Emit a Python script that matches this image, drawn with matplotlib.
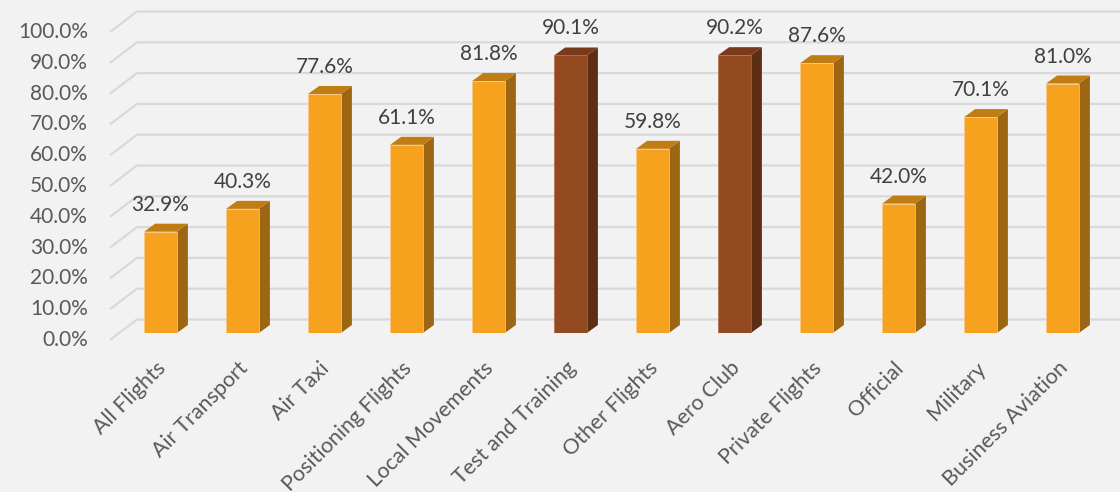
import matplotlib.pyplot as plt
import matplotlib.transforms as mtransforms
import numpy as np
from matplotlib.patches import Polygon

categories = ["All Flights", "Air Transport", "Air Taxi", "Positioning Flights",
              "Local Movements", "Test and Training", "Other Flights", "Aero Club",
              "Private Flights", "Official", "Military", "Business Aviation"]
values = [32.9, 40.3, 77.6, 61.1, 81.8, 90.1, 59.8, 90.2, 87.6, 42.0, 70.1, 81.0]
highlight = [False, False, False, False, False, True, False, True, False, False, False, False]
y_ticks = [0, 10, 20, 30, 40, 50, 60, 70, 80, 90, 100]

# colours (front, side, top)
orange = ("#F7A21E", "#9C6612", "#C07D14")
brown = ("#944A21", "#5E2E14", "#783A1B")

plt.rcParams['font.family'] = ['Lato', 'DejaVu Sans']

W, H = 1120, 492
fig = plt.figure(figsize=(W / 100, H / 100), dpi=100)
fig.patch.set_facecolor("#F2F2F2")

# axes placed so that x=-0.5..11.5 and y=0..100 sit on the bar plane
left, right, bottom, top = 119.5, 1103.5, 333, 25
ax = fig.add_axes([left / W, 1 - bottom / H, (right - left) / W, (bottom - top) / H])
ax.set_facecolor("none")
ax.set_xlim(-0.5, 11.5)
ax.set_ylim(0, 100)
for s in ax.spines.values():
    s.set_visible(False)

px_x = (right - left) / 12.0      # pixels per category
px_y = (bottom - top) / 100.0     # pixels per percent

def d(dx_px, dy_px):
    # pixel offset (image coords, y down) -> data offset
    return dx_px / px_x, -dy_px / px_y

fdx, fdy = d(-9.5, 7)      # front of floor
bdx, bdy = d(17.5, -13.5)  # back wall
cdx, cdy = d(11, -8)       # bar depth

# gridlines in perspective
for v in y_ticks:
    xs = [-0.5 + fdx, -0.5 + bdx, 11.5 + bdx + 1]
    ys = [v + fdy, v + bdy, v + bdy]
    ax.plot(xs, ys, color="#D9D9D9", lw=1.6, clip_on=False, zorder=1,
            solid_capstyle="butt")
    ax.text(-0.5 + fdx - 22 / px_x, v + fdy, f"{v:.1f}%", ha="right", va="center",
            fontsize=15, color="#595959")

x = np.arange(len(categories))
w = 0.4
for xi, v, hl in zip(x, values, highlight):
    front, side, topc = brown if hl else orange
    ax.bar(xi, v, width=w, color=front, edgecolor="#F9C98A" if not hl else "#B06A45",
           linewidth=0.5, zorder=3)
    ax.add_patch(Polygon([(xi + w / 2, 0), (xi + w / 2 + cdx, cdy),
                          (xi + w / 2 + cdx, v + cdy), (xi + w / 2, v)],
                         closed=True, facecolor=side, edgecolor="none", zorder=2))
    ax.add_patch(Polygon([(xi - w / 2, v), (xi + w / 2, v),
                          (xi + w / 2 + cdx, v + cdy), (xi - w / 2 + cdx, v + cdy)],
                         closed=True, facecolor=topc, edgecolor="none", zorder=2))
    ax.text(xi, v + cdy + 9 / px_y, f"{v:.1f}%", ha="center", va="bottom",
            fontsize=15, color="#404040", zorder=4)

ax.set_xticks(x)
ax.set_xticklabels(categories, rotation=45, ha="right", rotation_mode="anchor",
                   fontsize=15.5, color="#595959")
ax.tick_params(axis="x", length=0, pad=18)
shift = mtransforms.ScaledTranslation(-5 / 100, 0, fig.dpi_scale_trans)
for lbl in ax.get_xticklabels():
    lbl.set_transform(lbl.get_transform() + shift)
ax.set_yticks([])

plt.savefig("out.png", dpi=100, facecolor=fig.get_facecolor())
plt.close()
